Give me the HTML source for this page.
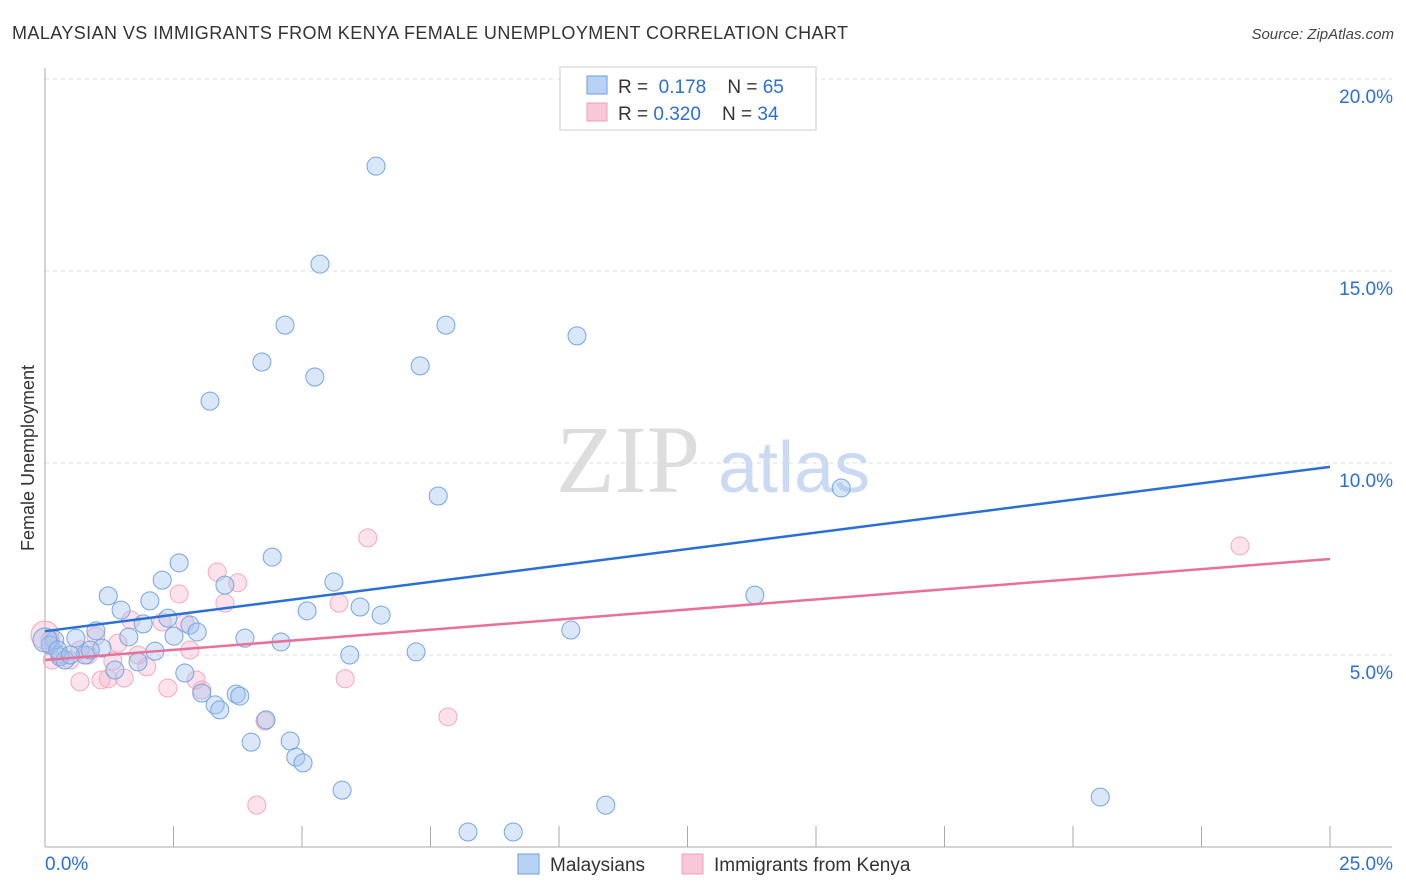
<!DOCTYPE html>
<html><head><meta charset="utf-8"><style>
body{margin:0;background:#fff;font-family:"Liberation Sans",sans-serif;}
svg{display:block}
</style></head><body>
<svg id="c" width="1406" height="892">
<text x="12" y="39" font-size="18" fill="#333" textLength="836">MALAYSIAN VS IMMIGRANTS FROM KENYA FEMALE UNEMPLOYMENT CORRELATION CHART</text>
<text x="1394" y="39" font-size="15" fill="#444" font-style="italic" text-anchor="end">Source: ZipAtlas.com</text>
<text x="556" y="492" font-size="96" fill="#ddd" font-family="Liberation Serif,serif">ZIP</text>
<text x="718" y="492" font-size="72" fill="#c9daf2">atlas</text>
<text transform="translate(34,458) rotate(-90)" font-size="18" fill="#333" text-anchor="middle">Female Unemployment</text>
<g id="grid"></g><g id="pts"></g><g id="lines"></g>
<g>
<rect x="560" y="67" width="256" height="63" fill="#fff" stroke="#ccc"/>
<rect x="587" y="76" width="20" height="18" fill="#b8d2f5" stroke="#6a9ee0"/>
<rect x="587" y="103" width="20" height="18" fill="#f9c8d8" stroke="#f0a0b8"/>
<text x="618" y="93" font-size="19" fill="#333">R = <tspan fill="#2a6fd6">&#160;0.178</tspan>&#160;&#160;&#160;&#160;N = <tspan fill="#2a6fd6">65</tspan></text>
<text x="618" y="120" font-size="19" fill="#333">R = <tspan fill="#2a6fd6">0.320</tspan>&#160;&#160;&#160;&#160;N = <tspan fill="#2a6fd6">34</tspan></text>
</g>
<g>
<rect x="518" y="854" width="21" height="20" fill="#b8d2f5" stroke="#6a9ee0"/>
<text x="550" y="871" font-size="19" fill="#333">Malaysians</text>
<rect x="682" y="854" width="21" height="20" fill="#f9c8d8" stroke="#f0a0b8"/>
<text x="714" y="871" font-size="19" fill="#333">Immigrants from Kenya</text>
</g>
</svg>
<script>
const blueX=[6.44,5.35,4.67,7.80,10.35,4.22,5.25,7.30,3.21,7.65,15.49,4.42,2.61,2.28,5.62,3.50,1.23,13.81,2.04,1.48,5.10,6.13,6.54,2.39,1.91,2.82,2.96,2.51,1.63,0.99,3.89,4.59,10.23,0.60,0.19,0.10,1.11,2.14,5.93,7.22,0.78,0.29,0.39,1.81,1.36,2.72,3.05,3.72,3.79,3.31,3.40,4.30,4.01,4.77,4.88,5.02,5.78,10.91,20.53,8.23,9.11,0.0,0.25,0.49,0.88];
const blueY=[17.73,15.18,13.59,13.59,13.31,12.63,12.24,12.53,11.61,9.14,9.35,7.55,7.40,6.95,6.90,6.82,6.54,6.56,6.41,6.17,6.15,6.25,6.04,5.96,5.81,5.78,5.60,5.49,5.47,5.63,5.44,5.34,5.65,5.44,5.39,5.26,5.18,5.10,5.00,5.08,5.00,4.95,4.87,4.82,4.61,4.53,4.01,3.98,3.93,3.70,3.57,3.31,2.73,2.76,2.34,2.19,1.48,1.09,1.30,0.39,0.39,5.39,5.13,5.00,5.13];
const pinkX=[6.28,23.25,3.35,3.75,2.61,3.50,5.72,1.67,2.28,2.72,1.42,0.99,2.82,1.81,1.98,1.32,5.84,1.54,1.09,1.23,0.68,2.94,2.39,3.05,7.84,4.28,4.12,0.10,0.29,0.68,0.0,0.49,0.84,0.14];
const pinkY=[8.05,7.84,7.16,6.88,6.59,6.35,6.35,5.91,5.86,5.83,5.31,5.49,5.13,5.00,4.69,4.84,4.38,4.40,4.35,4.38,4.30,4.35,4.14,4.09,3.39,3.28,1.09,5.39,5.00,5.13,5.52,4.87,5.00,4.87];
const blueLine=[5.62,9.90];
const pinkLine=[4.87,7.50];
const yTicks=[5,10,15,20];
const xTickLabels=["0.0%","25.0%"];
const NS="http://www.w3.org/2000/svg";
const sx=v=>45+v*51.4, sy=v=>847-v*38.4;
function mk(t,a,p){const e=document.createElementNS(NS,t);for(const k in a)e.setAttribute(k,a[k]);p.appendChild(e);return e;}
const g=document.getElementById('grid');
yTicks.forEach(t=>{
 const l=mk('line',{x1:45,x2:1392,y1:sy(t),y2:sy(t),stroke:'#ddd','stroke-dasharray':'4,4'},g);
 
 
 const tx=mk('text',{x:1393,y:sy(t)+24,'font-size':19,fill:'#2a6fd6','text-anchor':'end'},g);
 tx.textContent=t.toFixed(1)+'%';
 
 
});
mk('line',{x1:45,x2:45,y1:68,y2:847,stroke:'#aaa'},g);
mk('line',{x1:45,x2:1392,y1:847,y2:847,stroke:'#aaa'},g);
for(let i=0;i<=10;i++){mk('line',{x1:sx(i*2.5),x2:sx(i*2.5),y1:826,y2:847,stroke:'#aaa'},g);}
const x0=mk('text',{x:45,y:870,'font-size':19,fill:'#2a6fd6'},g);x0.textContent=xTickLabels[0];


const x1=mk('text',{x:1393,y:870,'font-size':19,fill:'#2a6fd6','text-anchor':'end'},g);x1.textContent=xTickLabels[1];


const P=document.getElementById('pts');
pinkX.forEach((x,i)=>{const c=mk('circle',{cx:sx(x),cy:sy(pinkY[i]),r:i==30?14:9,fill:'rgba(246,176,198,0.35)',stroke:'#f2a8c0','stroke-width':1},P);
 
 });
blueX.forEach((x,i)=>{const c=mk('circle',{cx:sx(x),cy:sy(blueY[i]),r:i==61?12:9,fill:'rgba(160,196,240,0.4)',stroke:'#75a5e2','stroke-width':1},P);
 
 });
const L=document.getElementById('lines');
const bl=mk('line',{x1:sx(0),y1:sy(blueLine[0]),x2:sx(25),y2:sy(blueLine[1]),stroke:'#2a6fd6','stroke-width':2.5},L);


const pl=mk('line',{x1:sx(0),y1:sy(pinkLine[0]),x2:sx(25),y2:sy(pinkLine[1]),stroke:'#e8709a','stroke-width':2.5},L);


</script>
</body></html>
